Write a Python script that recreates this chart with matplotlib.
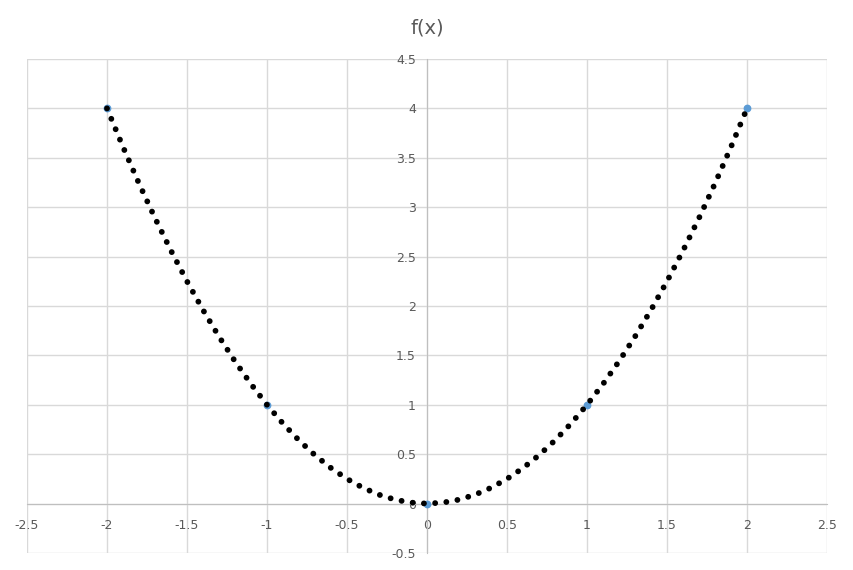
import matplotlib
matplotlib.use("Agg")
import matplotlib.pyplot as plt
from matplotlib.ticker import MultipleLocator

# curve points (step 0.1)
x_vals = [-2.0, -1.9, -1.8, -1.7, -1.6, -1.5, -1.4, -1.3, -1.2, -1.1,
          -1.0, -0.9, -0.8, -0.7, -0.6, -0.5, -0.4, -0.3, -0.2, -0.1,
          0.0, 0.1, 0.2, 0.3, 0.4, 0.5, 0.6, 0.7, 0.8, 0.9,
          1.0, 1.1, 1.2, 1.3, 1.4, 1.5, 1.6, 1.7, 1.8, 1.9, 2.0]
y_vals = [4.0, 3.61, 3.24, 2.89, 2.56, 2.25, 1.96, 1.69, 1.44, 1.21,
          1.0, 0.81, 0.64, 0.49, 0.36, 0.25, 0.16, 0.09, 0.04, 0.01,
          0.0, 0.01, 0.04, 0.09, 0.16, 0.25, 0.36, 0.49, 0.64, 0.81,
          1.0, 1.21, 1.44, 1.69, 1.96, 2.25, 2.56, 2.89, 3.24, 3.61, 4.0]

# highlighted points (blue markers)
marker_x = [-2.0, -1.0, 0.0, 1.0, 2.0]
marker_y = [4.0, 1.0, 0.0, 1.0, 4.0]

TEXT = "#595959"
GRID = "#D9D9D9"
AXIS = "#BFBFBF"
BLUE = "#5B9BD5"

plt.rcParams["font.family"] = ["DejaVu Sans"]

fig = plt.figure(figsize=(8.54, 5.70), dpi=100)
ax = fig.add_axes([27 / 854, 1 - 553 / 570, 800 / 854, 494 / 570])

ax.set_xlim(-2.5, 2.5)
ax.set_ylim(-0.5, 4.5)
ax.xaxis.set_major_locator(MultipleLocator(0.5))
ax.yaxis.set_major_locator(MultipleLocator(0.5))
ax.grid(True, color=GRID, linewidth=1.0)
ax.set_axisbelow(True)

for side in ["top", "right"]:
    ax.spines[side].set_visible(False)
ax.spines["left"].set_position(("data", 0))
ax.spines["bottom"].set_position(("data", 0))
ax.spines["left"].set_color(AXIS)
ax.spines["bottom"].set_color(AXIS)
ax.spines["left"].set_zorder(1)
ax.spines["bottom"].set_zorder(1)

ax.tick_params(axis="both", length=0, labelsize=9, labelcolor=TEXT)
ax.tick_params(axis="x", pad=11)
ax.tick_params(axis="y", pad=8)
ax.xaxis.set_major_formatter(plt.FuncFormatter(lambda v, p: f"{v:g}"))
ax.yaxis.set_major_formatter(plt.FuncFormatter(lambda v, p: f"{v:g}"))

ax.plot(marker_x, marker_y, linestyle="none", marker="o", markersize=4.6,
        color=BLUE, zorder=3, clip_on=False)
ax.plot(x_vals, y_vals, color="black", linewidth=4.2,
        linestyle=(0, (0.01, 1.92)), dash_capstyle="round",
        zorder=4, clip_on=False)

fig.text(0.5, 1 - 28 / 570, "f(x)", ha="center", va="center",
         fontsize=14, color=TEXT)

fig.savefig("out.png", dpi=100)
plt.close()
